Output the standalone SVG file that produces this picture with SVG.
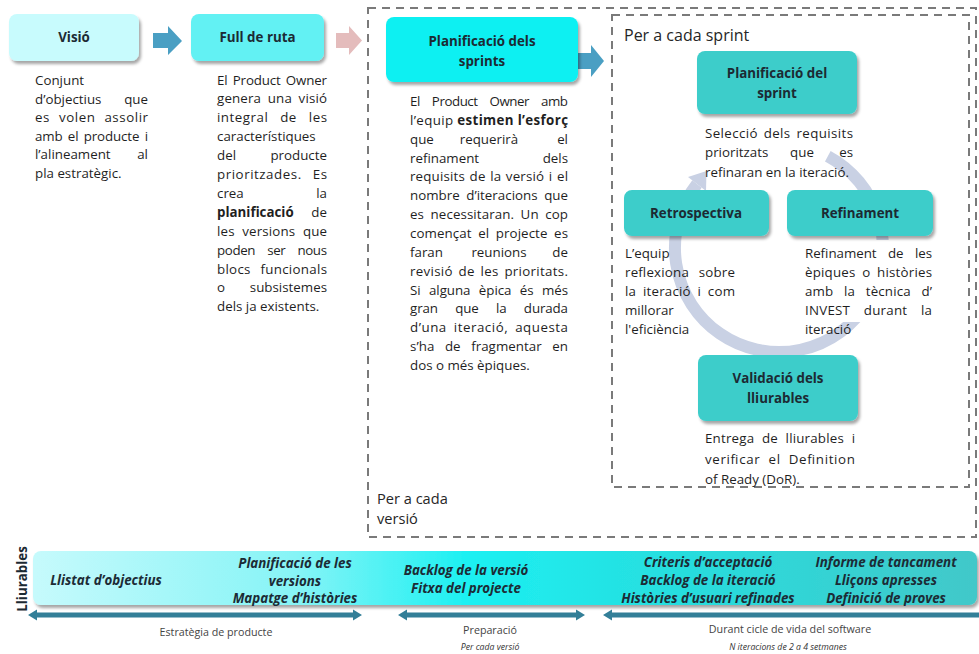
<svg xmlns="http://www.w3.org/2000/svg" width="979" height="654" viewBox="0 0 979 654">
  <defs>
    <filter id="shadow" x="-10%" y="-15%" width="125%" height="150%">
      <feDropShadow dx="2" dy="3" stdDeviation="1.6" flood-color="#000" flood-opacity="0.35"/>
    </filter>
    <linearGradient id="barFill" x1="0" y1="0" x2="1" y2="0">
      <stop offset="0" stop-color="#c6fafc"/>
      <stop offset="0.28" stop-color="#86f4f6"/>
      <stop offset="0.46" stop-color="#1cf0f2"/>
      <stop offset="0.7" stop-color="#28dcdd"/>
      <stop offset="1" stop-color="#42c8c9"/>
    </linearGradient>
    <style>
      .t { font-family: "Open Sans", "Liberation Sans", sans-serif; font-size: 13.33px; fill: #1f1f1f; }
      .b { font-weight: bold; }
      .h { font-family: "Open Sans", "Liberation Sans", sans-serif; font-size: 13.33px; font-weight: bold; fill: #1c2a33; text-anchor: middle; }
      .d { font-family: "Open Sans", "Liberation Sans", sans-serif; font-size: 13.33px; font-weight: bold; font-style: italic; fill: #1c2b35; text-anchor: middle; }
      .cap { font-family: "Open Sans", "Liberation Sans", sans-serif; font-size: 16px; fill: #262626; }
      .lbl { font-family: "Open Sans", "Liberation Sans", sans-serif; font-size: 10.7px; fill: #444; text-anchor: middle; }
      .sm { font-family: "Open Sans", "Liberation Sans", sans-serif; font-size: 8.7px; font-style: italic; fill: #333; text-anchor: middle; }
      .e { text-anchor: end; }
      .m { text-anchor: middle; }
      .frame { fill: none; stroke: #7a7a7a; stroke-width: 2; stroke-dasharray: 8 6; }
      .box { filter: url(#shadow); }
      .teal { fill: #3ecdca; }
      .blk { fill: #4a9fc3; }
      .phase { fill: #337f98; }
      .ring { fill: #c9d1e4; }
    </style>
  </defs>

  <rect width="979" height="654" fill="#ffffff"/>

  <!-- dashed scopes -->
  <g id="per-version">
    <rect class="frame" x="368" y="8" width="608" height="529"/>
    <text class="cap" x="377" y="504" style="font-size:14.6px">Per a cada</text>
    <text class="cap" x="377" y="524" style="font-size:14.6px">versió</text>
  </g>
  <g id="per-sprint">
    <rect class="frame" x="612" y="15" width="357" height="472"/>
    <text class="cap" x="624" y="41">Per a cada sprint</text>
  </g>

  <!-- connectors -->
  <g id="connectors">
    <path class="blk" d="M153 33 L168 33 L168 26 L182 41 L168 55 L168 48 L153 48 Z"/>
    <path fill="#e4bcbc" d="M336 33 L349 33 L349 26 L362 40.5 L349 55 L349 48 L336 48 Z"/>
    <path class="blk" d="M578 53 L591 53 L591 45 L604 61 L591 77 L591 69 L578 69 Z"/>
    <!-- sprint cycle -->
    <path d="M827.8 156.2 A104 104 0 1 1 697 184" fill="none" stroke="#c9d1e4" stroke-width="12"/>
    <path class="ring" d="M688 177 L706 191 L706.5 171 Z"/>
    <!-- phase spans -->
    <path class="phase" d="M28 615 L37 609.5 L37 612.5 L353 612.5 L353 609.5 L362 615 L353 620.5 L353 617.5 L37 617.5 L37 620.5 Z"/>
    <path class="phase" d="M398 615 L407 609.5 L407 612.5 L576 612.5 L576 609.5 L585 615 L576 620.5 L576 617.5 L407 617.5 L407 620.5 Z"/>
    <path class="phase" d="M603 615 L612 609.5 L612 612.5 L979 612.5 L979 617.5 L612 617.5 L612 620.5 Z"/>
  </g>

  <!-- Visió -->
  <g id="vision">
    <rect class="box" x="9" y="14" width="130" height="47" rx="8" fill="#c8fbfd"/>
    <text class="h" x="74" y="42">Visió</text>
    <text class="t" x="35" y="85">Conjunt</text>
    <text class="t" x="35" y="103.5">d’objectius</text>
    <text class="t e" x="148" y="103.5">que</text>
    <text class="t" x="35" y="122" textLength="113" lengthAdjust="spacing" word-spacing="5">es volen assolir</text>
    <text class="t" x="35" y="140.5" textLength="113" lengthAdjust="spacing" word-spacing="2">amb el producte i</text>
    <text class="t" x="35" y="159">l’alineament</text>
    <text class="t e" x="148" y="159">al</text>
    <text class="t" x="35" y="177.5">pla estratègic.</text>
  </g>

  <!-- Full de ruta -->
  <g id="roadmap">
    <rect class="box" x="191" y="14" width="133" height="47" rx="8" fill="#62f1f3"/>
    <text class="h" x="257.5" y="42">Full de ruta</text>
    <text class="t" x="217" y="84.5" textLength="110" lengthAdjust="spacing" word-spacing="2">El Product Owner</text>
    <text class="t" x="217" y="103.4" textLength="110" lengthAdjust="spacing" word-spacing="3">genera una visió</text>
    <text class="t" x="217" y="122.3" textLength="110" lengthAdjust="spacing" word-spacing="8">integral de les</text>
    <text class="t" x="217" y="141.2">característiques</text>
    <text class="t" x="217" y="160.1">del</text>
    <text class="t e" x="327" y="160.1">producte</text>
    <text class="t" x="217" y="179" textLength="110" lengthAdjust="spacing" word-spacing="7">prioritzades. Es</text>
    <text class="t" x="217" y="197.9">crea</text>
    <text class="t e" x="327" y="197.9">la</text>
    <text class="t b" x="217" y="216.8">planificació</text>
    <text class="t e" x="327" y="216.8">de</text>
    <text class="t" x="217" y="235.7" textLength="110" lengthAdjust="spacing" word-spacing="4">les versions que</text>
    <text class="t" x="217" y="254.6" textLength="110" lengthAdjust="spacing" word-spacing="9">poden ser nous</text>
    <text class="t" x="217" y="273.5" textLength="110" lengthAdjust="spacing" word-spacing="6">blocs funcionals</text>
    <text class="t" x="217" y="292.4">o</text>
    <text class="t e" x="327" y="292.4">subsistemes</text>
    <text class="t" x="217" y="311.3">dels ja existents.</text>
  </g>

  <!-- Planificació dels sprints -->
  <g id="sprints-planning">
    <rect class="box" x="386" y="17" width="192" height="65" rx="8" fill="#0ef0f2"/>
    <text class="h" x="482" y="46">Planificació dels</text>
    <text class="h" x="482" y="66">sprints</text>
    <text class="t" x="410" y="106" textLength="158" lengthAdjust="spacing" word-spacing="9">El Product Owner amb</text>
    <text class="t" x="410" y="124.9" textLength="158" lengthAdjust="spacing">l’equip <tspan class="b">estimen l’esforç</tspan></text>
    <text class="t" x="410" y="143.7">que</text>
    <text class="t m" x="489" y="143.7">requerirà</text>
    <text class="t e" x="568" y="143.7">el</text>
    <text class="t" x="410" y="162.6">refinament</text>
    <text class="t e" x="568" y="162.6">dels</text>
    <text class="t" x="410" y="181.4" textLength="158" lengthAdjust="spacing" word-spacing="1">requisits de la versió i el</text>
    <text class="t" x="410" y="200.3" textLength="158" lengthAdjust="spacing" word-spacing="3">nombre d’iteracions que</text>
    <text class="t" x="410" y="219.2" textLength="158" lengthAdjust="spacing" word-spacing="3">es necessitaran. Un cop</text>
    <text class="t" x="410" y="238" textLength="158" lengthAdjust="spacing" word-spacing="3">començat el projecte es</text>
    <text class="t" x="410" y="256.9">faran</text>
    <text class="t m" x="499" y="256.9">reunions</text>
    <text class="t e" x="568" y="256.9">de</text>
    <text class="t" x="410" y="275.7" textLength="158" lengthAdjust="spacing" word-spacing="2">revisió de les prioritats.</text>
    <text class="t" x="410" y="294.6" textLength="158" lengthAdjust="spacing" word-spacing="5">Si alguna èpica és més</text>
    <text class="t" x="410" y="313.4" textLength="158" lengthAdjust="spacing" word-spacing="14">gran que la durada</text>
    <text class="t" x="410" y="332.3" textLength="158" lengthAdjust="spacing" word-spacing="3">d’una iteració, aquesta</text>
    <text class="t" x="410" y="351.2" textLength="158" lengthAdjust="spacing" word-spacing="7">s’ha de fragmentar en</text>
    <text class="t" x="410" y="370">dos o més èpiques.</text>
  </g>

  <!-- Planificació del sprint -->
  <g id="sprint-planning">
    <rect class="box teal" x="697" y="51" width="160" height="63" rx="8"/>
    <text class="h" x="777" y="78">Planificació del</text>
    <text class="h" x="777" y="98">sprint</text>
    <text class="t" x="705" y="138" textLength="148" lengthAdjust="spacing" word-spacing="2">Selecció dels requisits</text>
    <text class="t" x="705" y="157">prioritzats</text>
    <text class="t m" x="802" y="157">que</text>
    <text class="t e" x="853" y="157">es</text>
    <text class="t" x="705" y="176.5">refinaran en la iteració.</text>
  </g>

  <!-- Retrospectiva -->
  <g id="retrospective">
    <rect class="box teal" x="624" y="190" width="145" height="46" rx="8"/>
    <text class="h" x="696" y="218">Retrospectiva</text>
    <text class="t" x="625" y="258">L’equip</text>
    <text class="t" x="625" y="277" textLength="110" lengthAdjust="spacing" word-spacing="6">reflexiona sobre</text>
    <text class="t" x="625" y="296" textLength="110" lengthAdjust="spacing" word-spacing="3">la iteració i com</text>
    <text class="t" x="625" y="315">millorar</text>
    <text class="t" x="625" y="334">l'eficiència</text>
  </g>

  <!-- Refinament -->
  <g id="refinement">
    <rect x="801" y="240" width="136" height="82" fill="#ffffff"/>
    <rect class="box teal" x="787" y="190" width="146" height="46" rx="8"/>
    <text class="h" x="860" y="218">Refinament</text>
    <text class="t" x="805" y="258" textLength="127" lengthAdjust="spacing" word-spacing="8">Refinament de les</text>
    <text class="t" x="805" y="277" textLength="127" lengthAdjust="spacing" word-spacing="3">èpiques o històries</text>
    <text class="t" x="805" y="296" textLength="127" lengthAdjust="spacing" word-spacing="7">amb la tècnica d’</text>
    <text class="t" x="805" y="315" textLength="127" lengthAdjust="spacing" word-spacing="10">INVEST durant la</text>
    <text class="t" x="805" y="334">iteració</text>
  </g>

  <!-- Validació dels lliurables -->
  <g id="validation">
    <rect class="box teal" x="698" y="355" width="160" height="66" rx="8"/>
    <text class="h" x="778" y="383">Validació dels</text>
    <text class="h" x="778" y="403">lliurables</text>
    <text class="t" x="705" y="443" textLength="150" lengthAdjust="spacing" word-spacing="4">Entrega de lliurables i</text>
    <text class="t" x="705" y="463.5" textLength="150" lengthAdjust="spacing" word-spacing="4">verificar el Definition</text>
    <text class="t" x="705" y="484">of Ready (DoR).</text>
  </g>

  <!-- Lliurables -->
  <g id="deliverables">
    <text class="h" transform="translate(27 579) rotate(-90)" x="0" y="0">Lliurables</text>
    <rect class="box" x="33" y="551" width="944" height="54" rx="8" fill="url(#barFill)"/>
    <text class="d" x="106" y="585">Llistat d’objectius</text>
    <text class="d" x="295" y="568">Planificació de les</text>
    <text class="d" x="295" y="585.5">versions</text>
    <text class="d" x="295" y="603">Mapatge d’històries</text>
    <text class="d" x="466" y="575">Backlog de la versió</text>
    <text class="d" x="466" y="593">Fitxa del projecte</text>
    <text class="d" x="708" y="567">Criteris d’acceptació</text>
    <text class="d" x="708" y="585">Backlog de la iteració</text>
    <text class="d" x="708" y="603">Històries d’usuari refinades</text>
    <text class="d" x="886" y="567">Informe de tancament</text>
    <text class="d" x="886" y="585">Lliçons apresses</text>
    <text class="d" x="886" y="603">Definició de proves</text>
  </g>

  <!-- phase labels -->
  <g id="phases">
    <text class="lbl" x="216" y="636">Estratègia de producte</text>
    <text class="lbl" x="490" y="634">Preparació</text>
    <text class="sm" x="490" y="650">Per cada versió</text>
    <text class="lbl" x="790" y="633">Durant cicle de vida del software</text>
    <text class="sm" x="788" y="650">N iteracions de 2 a 4 setmanes</text>
  </g>
</svg>
